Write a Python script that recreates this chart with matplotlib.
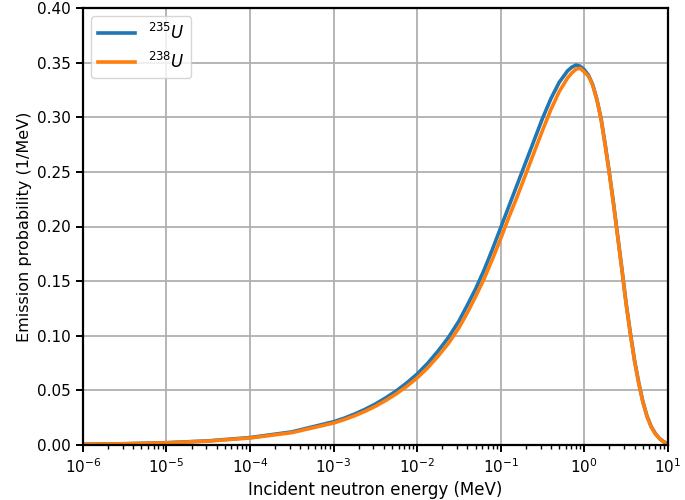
import numpy as np
import matplotlib
matplotlib.use('Agg')
import matplotlib.pyplot as plt
import matplotlib.ticker as ticker

# log10 of incident neutron energy (MeV) where values were read
log_energy = [-6, -5.5, -5, -4.5, -4, -3.5,
              -3, -2.875, -2.75, -2.625, -2.5, -2.375, -2.25, -2.125,
              -2, -1.875, -1.75, -1.625, -1.5,
              -1.4, -1.3, -1.2, -1.1, -1.0, -0.9, -0.8, -0.7, -0.6, -0.5,
              -0.4, -0.3, -0.2, -0.15, -0.1, -0.05, 0.0, 0.05, 0.1, 0.15,
              0.2, 0.25, 0.3, 0.35, 0.4, 0.45, 0.5, 0.55, 0.6, 0.65,
              0.7, 0.75, 0.8, 0.85, 0.9, 0.95, 1.0]

# emission probability (1/MeV)
u235 = [0.0007, 0.0012, 0.0021, 0.0038, 0.0068, 0.0120,
        0.0213, 0.0245, 0.0283, 0.0326, 0.0375, 0.0432, 0.0495, 0.0568,
        0.0650, 0.0747, 0.0860, 0.0985, 0.1135,
        0.1280, 0.1430, 0.1600, 0.1790, 0.1990, 0.2190, 0.2390, 0.2590, 0.2790, 0.2990,
        0.3170, 0.3320, 0.3425, 0.3458, 0.3478, 0.3468, 0.3435, 0.3385, 0.3300, 0.3165,
        0.2990, 0.2750, 0.2490, 0.2210, 0.1910, 0.1610, 0.1300, 0.1030, 0.0780, 0.0575,
        0.0400, 0.0265, 0.0170, 0.0105, 0.0060, 0.0030, 0.0010]

u238 = [0.0007, 0.0011, 0.0020, 0.0036, 0.0064, 0.0113,
        0.0201, 0.0232, 0.0267, 0.0308, 0.0354, 0.0408, 0.0468, 0.0537,
        0.0614, 0.0706, 0.0813, 0.0931, 0.1073,
        0.1210, 0.1360, 0.1520, 0.1700, 0.1890, 0.2090, 0.2280, 0.2480, 0.2680, 0.2880,
        0.3070, 0.3235, 0.3360, 0.3405, 0.3440, 0.3448, 0.3415, 0.3375, 0.3295, 0.3160,
        0.2985, 0.2742, 0.2482, 0.2202, 0.1902, 0.1602, 0.1292, 0.1022, 0.0772, 0.0570,
        0.0395, 0.0260, 0.0165, 0.0101, 0.0057, 0.0028, 0.0010]

x_ticks = [1e-6, 1e-5, 1e-4, 1e-3, 1e-2, 1e-1, 1e0, 1e1]
x_ticklabels = ['$10^{-6}$', '$10^{-5}$', '$10^{-4}$', '$10^{-3}$',
                '$10^{-2}$', '$10^{-1}$', '$10^{0}$', '$10^{1}$']

energy = 10.0 ** np.array(log_energy)

fig = plt.figure(figsize=(6.85, 5.0), dpi=100)
ax = fig.add_axes([0.121, 0.11, 0.854, 0.874])

ax.plot(energy, u235, color='#1f77b4', lw=2.6, label='$^{235}U$')
ax.plot(energy, u238, color='#ff7f0e', lw=2.6, label='$^{238}U$')

ax.set_xscale('log')
ax.set_xlim(1e-6, 1e1)
ax.set_xticks(x_ticks)
ax.set_xticklabels(x_ticklabels)
ax.xaxis.set_minor_formatter(ticker.NullFormatter())
ax.set_ylim(0, 0.40)
yticks = np.arange(0, 0.401, 0.05)
ax.set_yticks(yticks)
ax.set_yticklabels(['%.2f' % v for v in yticks])

ax.grid(True, which='major', color='#b0b0b0', lw=1.3)
ax.set_axisbelow(True)
for s in ax.spines.values():
    s.set_linewidth(1.6)
ax.tick_params(which='major', labelsize=11, width=1.4, length=5)
ax.tick_params(which='minor', width=1.0, length=3)

ax.set_xlabel('Incident neutron energy (MeV)', fontsize=12)
ax.set_ylabel('Emission probability (1/MeV)', fontsize=11.5)

ax.legend(loc='upper left', fontsize=12, handlelength=2.2)

plt.savefig('out.png', dpi=100)
